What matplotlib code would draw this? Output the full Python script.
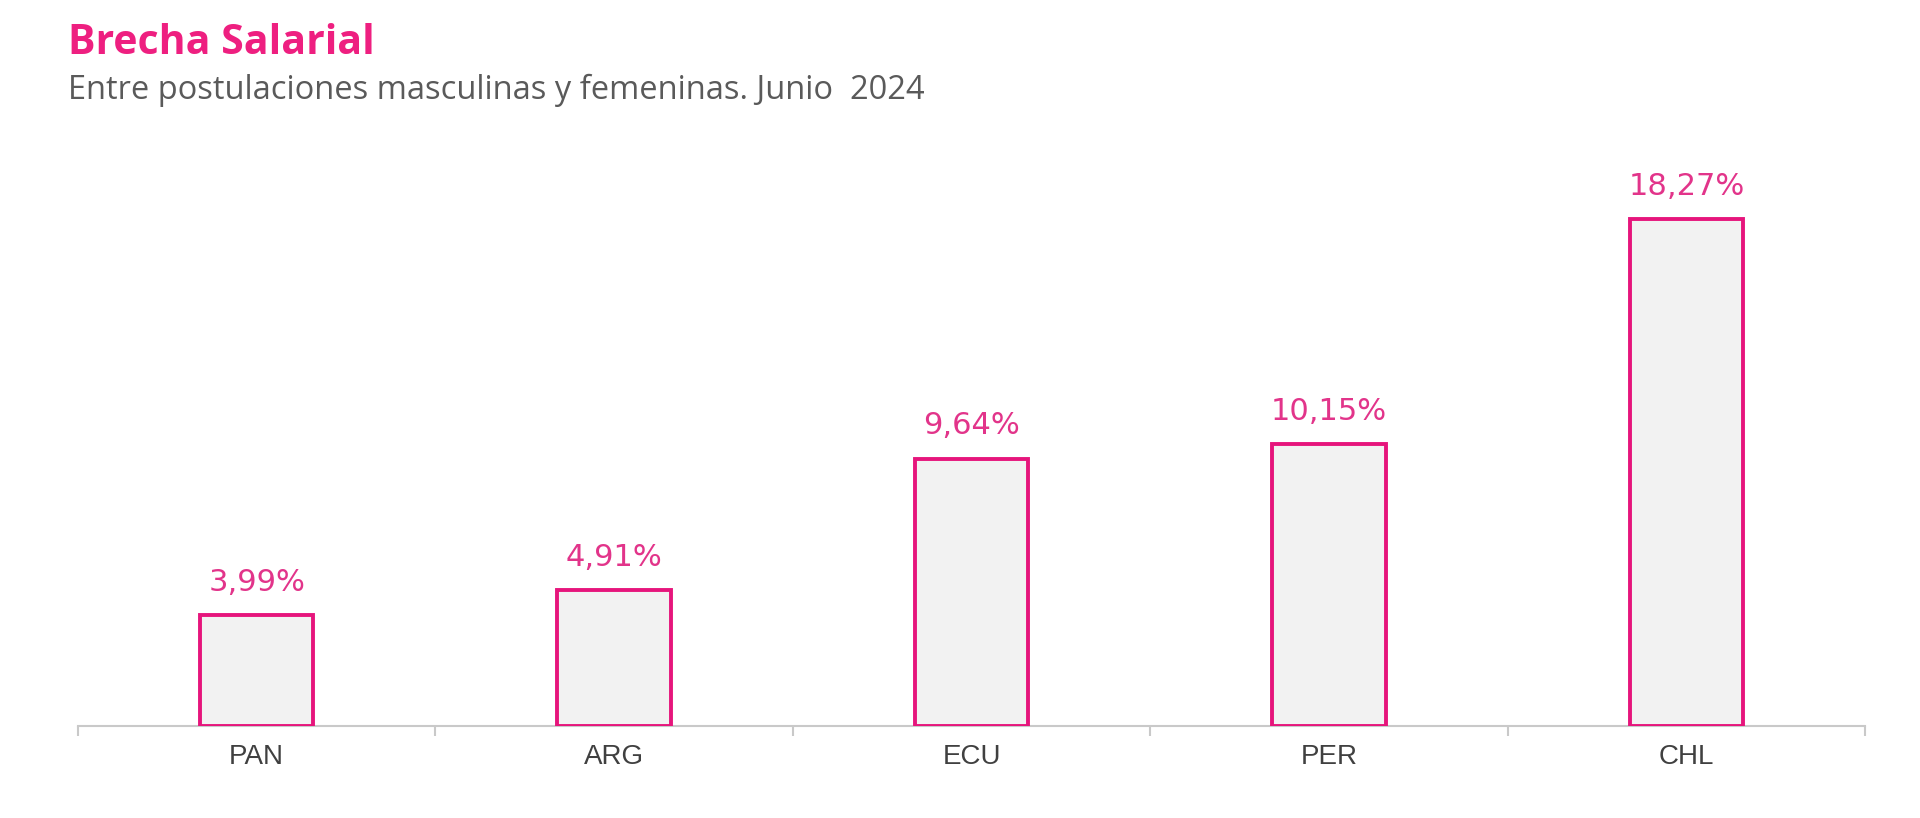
import matplotlib.pyplot as plt

# Datos
paises = ["PAN", "ARG", "ECU", "PER", "CHL"]
brecha = [3.99, 4.91, 9.64, 10.15, 18.27]
etiquetas = ["3,99%", "4,91%", "9,64%", "10,15%", "18,27%"]

rosa = "#E6157C"
gris_eje = "#C9C9C9"

fig = plt.figure(figsize=(19.2, 8.18), dpi=100)
ax = fig.add_axes([0.0406, 0.1125, 0.9308, 0.704])

x = range(len(paises))
ax.bar(x, brecha, width=0.317, color="#F2F2F2", edgecolor=rosa, linewidth=2.8, zorder=3)

for i, (v, txt) in enumerate(zip(brecha, etiquetas)):
    ax.annotate(txt, (i, v), xytext=(0, 23.5), textcoords="offset points",
                ha="center", va="center", fontsize=22, color="#E2348A",
                family="DejaVu Sans")

ax.set_xlim(-0.5, len(paises) - 0.5)
ax.set_ylim(0, 20.76)

# ejes
for s in ["top", "right", "left"]:
    ax.spines[s].set_visible(False)
ax.spines["bottom"].set_color(gris_eje)
ax.spines["bottom"].set_linewidth(1.5)
ax.set_yticks([])
ax.set_xticks(list(x))
ax.set_xticklabels(paises, fontsize=20, color="#404040", family="Liberation Sans")
ax.tick_params(axis="x", which="major", length=0, pad=13)
ax.set_xticks([i - 0.5 for i in range(len(paises) + 1)], minor=True)
ax.tick_params(axis="x", which="minor", length=7, width=1.5, color=gris_eje)

# títulos
fig.text(0.0355, 0.947, "Brecha Salarial", fontsize=29.5, fontweight="bold",
         color="#EE1F80", family="Open Sans", va="center")
fig.text(0.0355, 0.890, "Entre postulaciones masculinas y femeninas. Junio  2024",
         fontsize=23.5, color="#5A5A5A", family="Open Sans", va="center")

fig.savefig("out.png", dpi=100)
